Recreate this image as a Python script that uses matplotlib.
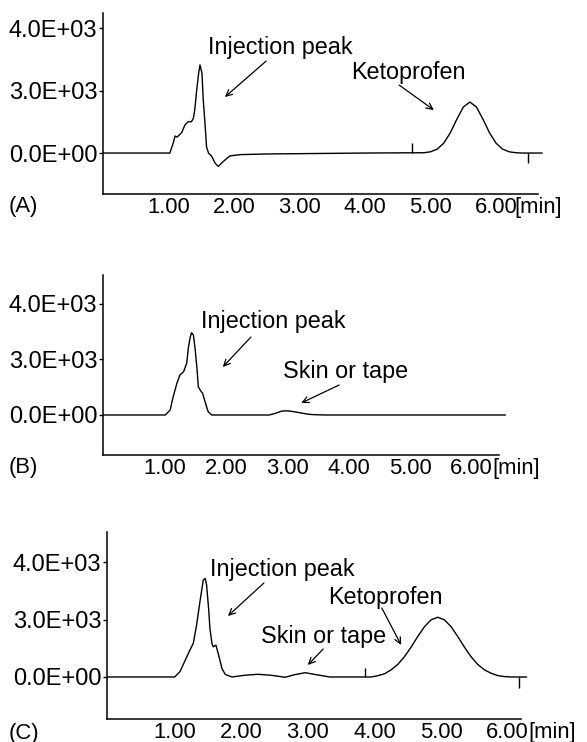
import matplotlib
matplotlib.use("Agg")
import matplotlib.pyplot as plt

plt.rcParams['font.family'] = ['Liberation Sans', 'DejaVu Sans']

# ---- data (time in min, signal in plot units) ----
a_time = [0.0, 1.02, 1.07, 1.10, 1.13, 1.20, 1.25, 1.30, 1.35, 1.38, 1.40, 1.43, 1.46,
          1.48, 1.51, 1.53, 1.56, 1.58, 1.61, 1.66, 1.71, 1.76, 1.81, 1.89, 1.94, 2.10,
          2.50, 3.00, 3.50, 4.00, 4.90, 5.00, 5.10, 5.20, 5.30, 5.40, 5.50, 5.60, 5.70,
          5.80, 5.90, 6.00, 6.10, 6.20, 6.30, 6.40, 6.70]
a_signal = [0, 0, 310, 544, 512, 650, 896, 1002, 1002, 1120, 1376, 2016, 2560,
            2820, 2560, 1700, 840, 200, 0, -107, -320, -430, -320, -170, -90, -50,
            -30, -20, -10, 0, 10, 40, 124, 313, 645, 1080, 1473, 1632, 1473,
            1080, 645, 313, 124, 40, 10, 0, 0]
a_mark_time = [4.72, 6.49]
a_mark_height = [320, -320]

b_time = [0.0, 1.00, 1.08, 1.13, 1.19, 1.24, 1.30, 1.35, 1.38, 1.41, 1.43, 1.46, 1.49,
          1.52, 1.54, 1.57, 1.61, 1.65, 1.70, 1.76, 2.70, 2.80, 2.90, 3.00, 3.10, 3.20,
          3.30, 3.40, 3.60, 6.55]
b_signal = [0, 0, 180, 660, 1140, 1440, 1560, 1860, 2460, 2820, 2960, 2880, 2340,
            1620, 1020, 900, 780, 480, 120, 0, 0, 60, 140, 150, 120, 80,
            40, 15, 0, 0]

c_time = [0.0, 1.00, 1.08, 1.16, 1.23, 1.28, 1.33, 1.38, 1.43, 1.46, 1.48, 1.51, 1.53,
          1.56, 1.58, 1.62, 1.66, 1.71, 1.76, 1.86, 2.05, 2.25, 2.45, 2.66, 2.80, 2.96,
          3.10, 3.33, 3.95, 4.05, 4.15, 4.25, 4.35, 4.45, 4.55, 4.65, 4.75, 4.85, 4.95,
          5.05, 5.15, 5.25, 5.35, 5.45, 5.55, 5.65, 5.75, 5.85, 5.95, 6.05, 6.28]
c_signal = [0, 0, 184, 590, 940, 1170, 1810, 2620, 3375, 3430, 3200, 2390, 1690,
            1170, 1050, 1110, 765, 300, 90, 0, 60, 94, 60, -10, 80, 150,
            90, 0, 0, 45, 110, 250, 438, 705, 1040, 1410, 1750, 1990, 2080,
            1990, 1750, 1410, 1040, 705, 438, 250, 131, 50, 15, 0, 0]
c_mark_time = [3.86, 6.17]
c_mark_height = [300, -390]

x_ticks = [1, 2, 3, 4, 5, 6]
x_labels = ['1.00', '2.00', '3.00', '4.00', '5.00', '6.00']
y_ticks = [0, 2000, 4000]
y_labels = ['0.0E+00', '3.0E+03', '4.0E+03']

fig = plt.figure(figsize=(5.87, 7.42), dpi=100)

panels = [
    dict(rect=[0.1755, 0.7385, 0.7411, 0.2439], xlim=(0, 6.64), ylim=(-1312, 4480),
         t=a_time, s=a_signal, mt=a_mark_time, mh=a_mark_height, tag='(A)', tag_y=207,
         unit_off=13,
         notes=[('Injection peak', (2.70, 3392), (2.49, 2944), (1.86, 1792)),
                ('Ketoprofen', (4.66, 2592), (4.52, 2176), (5.05, 1376))]),
    dict(rect=[0.1755, 0.3868, 0.6746, 0.2426], xlim=(-0.016, 6.45), ylim=(-1440, 5040),
         t=b_time, s=b_signal, mt=[], mh=[], tag='(B)', tag_y=467,
         unit_off=15,
         notes=[('Injection peak', (2.76, 3348), (2.40, 2808), (1.94, 1728)),
                ('Skin or tape', (3.94, 1548), (3.84, 1080), (3.22, 432))]),
    dict(rect=[0.1823, 0.0310, 0.7053, 0.2520], xlim=(-0.015, 6.2), ylim=(-1462, 5046),
         t=c_time, s=c_signal, mt=c_mark_time, mh=c_mark_height, tag='(C)', tag_y=733,
         unit_off=15,
         notes=[('Injection peak', (2.61, 3758), (2.34, 3271), (1.80, 2123)),
                ('Ketoprofen', (4.17, 2784), (4.11, 2401), (4.40, 1114)),
                ('Skin or tape', (3.24, 1392), (3.23, 974), (3.00, 418))]),
]

for p in panels:
    ax = fig.add_axes(p['rect'])
    ax.plot(p['t'], p['s'], color='black', lw=1.0, clip_on=False)
    if p['mt']:
        ax.vlines(p['mt'], 0, p['mh'], color='black', lw=1.0, clip_on=False)
    ax.set_xlim(*p['xlim'])
    ax.set_ylim(*p['ylim'])
    for side in ['top', 'right']:
        ax.spines[side].set_visible(False)
    for side in ['left', 'bottom']:
        ax.spines[side].set_linewidth(1.1)
    ax.set_xticks(x_ticks)
    ax.set_xticklabels(x_labels, fontsize=15.8)
    ax.set_yticks(y_ticks)
    ax.set_yticklabels(y_labels, fontsize=17)
    ax.tick_params(axis='x', length=0, pad=2)
    ax.tick_params(axis='y', length=3, width=1, pad=1)
    ax.annotate('[min]', xy=(6, 0), xycoords=('data', 'axes fraction'),
                xytext=(p['unit_off'], -2), textcoords='offset points',
                ha='left', va='top', fontsize=15.8)
    for label, txt_pos, tail, head in p['notes']:
        ax.text(*txt_pos, label, ha='center', va='center', fontsize=16.8)
        ax.annotate('', xy=head, xytext=tail,
                    arrowprops=dict(arrowstyle='->,head_length=0.45,head_width=0.22',
                                    color='black', lw=0.9, shrinkA=0, shrinkB=0))
    fig.text(9 / 587, 1 - p['tag_y'] / 742, p['tag'], ha='left', va='center', fontsize=15.8)

fig.savefig('out.png', dpi=100, facecolor='white')
